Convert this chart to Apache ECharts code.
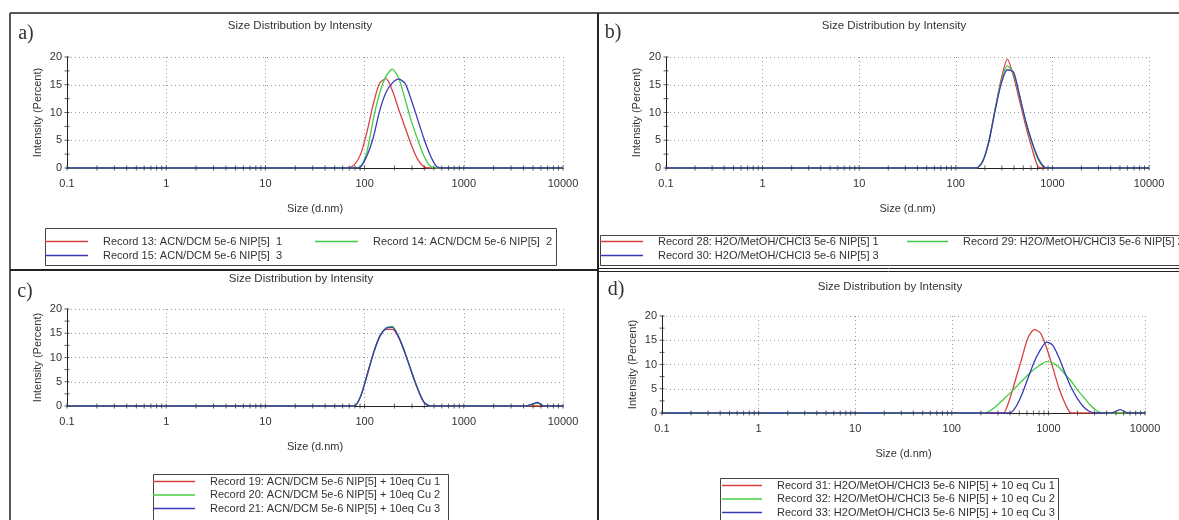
<!DOCTYPE html>
<html><head><meta charset="utf-8">
<script src="https://cdn.jsdelivr.net/npm/echarts@6/dist/echarts.min.js"></script>
<style>html,body{margin:0;padding:0;background:#fff}#c{width:1179px;height:520px}</style>
</head><body><div id="c"></div>
<script>
// Size bins (d.nm)
const sizes = [0.1, 58.77, 68.06, 78.82, 91.28, 105.7, 122.4, 141.8, 164.2, 190.1, 220.2, 255.0, 295.3, 342.0, 396.1, 458.7, 531.2, 615.1, 712.4, 825.0, 955.4, 1106, 1281, 1484, 1718, 1990, 2305, 2669, 3091, 3580, 4145, 4801, 5560, 6439, 7456, 8635, 10000];

// Panel a
const aNames = ['Record 13: ACN/DCM 5e-6 NIP[5]  1', 'Record 14: ACN/DCM 5e-6 NIP[5]  2', 'Record 15: ACN/DCM 5e-6 NIP[5]  3'];
const aRed   = [0,0,0,0.6,2.5,6.5,11.5,15.3,16.1,14.0,10.6,7.4,4.2,1.6,0.2,0,0,0,0,0,0,0,0,0,0,0,0,0,0,0,0,0,0,0,0,0,0];
const aGreen = [0,0,0,0,0.3,3.0,8.8,13.5,16.5,17.8,16.2,12.5,8.5,5.2,2.2,0.3,0,0,0,0,0,0,0,0,0,0,0,0,0,0,0,0,0,0,0,0,0];
const aBlue  = [0,0,0,0,0.2,2.2,5.5,10.3,13.6,15.3,16.0,15.3,12.3,8.8,5.3,2.3,0.3,0,0,0,0,0,0,0,0,0,0,0,0,0,0,0,0,0,0,0,0];

// Panel b
const bNames = ['Record 28: H2O/MetOH/CHCl3 5e-6 NIP[5] 1', 'Record 29: H2O/MetOH/CHCl3 5e-6 NIP[5] 2', 'Record 30: H2O/MetOH/CHCl3 5e-6 NIP[5] 3'];
const bRed   = [0,0,0,0,0,0,0,0,0,1.2,4.8,10.5,16.0,19.6,16.5,12.0,7.5,3.5,0.2,0,0,0,0,0,0,0,0,0,0,0,0,0,0,0,0,0,0];
const bGreen = [0,0,0,0,0,0,0,0,0,1.2,4.8,10.5,15.6,18.4,17.0,12.8,8.2,4.5,1.5,0.1,0,0,0,0,0,0,0,0,0,0,0,0,0,0,0,0,0];
const bBlue  = [0,0,0,0,0,0,0,0,0,1.2,4.8,10.3,15.2,17.7,17.3,13.0,8.4,4.7,1.8,0.2,0,0,0,0,0,0,0,0,0,0,0,0,0,0,0,0,0];

// Panel c
const cNames = ['Record 19: ACN/DCM 5e-6 NIP[5] + 10eq Cu 1', 'Record 20: ACN/DCM 5e-6 NIP[5] + 10eq Cu 2', 'Record 21: ACN/DCM 5e-6 NIP[5] + 10eq Cu 3'];
const cRed   = [0,0,0,0,2.0,6.3,10.8,14.3,15.8,15.8,14.2,11.0,7.2,3.6,0.8,0,0,0,0,0,0,0,0,0,0,0,0,0,0,0,0,0,0,0,0,0,0];
const cGreen = [0,0,0,0,2.0,6.3,10.8,14.4,16.1,16.4,14.3,11.0,7.2,3.6,0.8,0,0,0,0,0,0,0,0,0,0,0,0,0,0,0,0,0.3,0.55,0,0,0,0];
const cBlue  = [0,0,0,0,2.0,6.3,10.8,14.3,16.0,16.2,14.2,11.0,7.2,3.6,0.8,0,0,0,0,0,0,0,0,0,0,0,0,0,0,0,0,0.35,0.75,0,0,0,0];

// Panel d
const dNames = ['Record 31: H2O/MetOH/CHCl3 5e-6 NIP[5] + 10 eq Cu 1', 'Record 32: H2O/MetOH/CHCl3 5e-6 NIP[5] + 10 eq Cu 2', 'Record 33: H2O/MetOH/CHCl3 5e-6 NIP[5] + 10 eq Cu 3'];
const dRed   = [0,0,0,0,0,0,0,0,0,0,0,0,0,0,2.8,7.0,11.3,15.5,17.2,16.5,13.5,9.5,5.2,2.0,0,0,0,0,0,0,0,0,0,0,0,0,0];
const dGreen = [0,0,0,0,0,0,0,0,0,0,0,0.6,1.6,2.8,4.0,5.3,6.6,7.9,9.0,9.9,10.6,10.3,9.5,8.0,6.6,4.8,3.3,1.8,0.6,0,0,0,0,0,0,0,0];
const dBlue  = [0,0,0,0,0,0,0,0,0,0,0,0,0,0,0,1.2,3.8,7.2,10.5,13.0,14.6,14.0,11.5,8.3,5.3,3.0,1.3,0.3,0,0,0,0.2,0.7,0.1,0,0,0];

// Axis ticks
const xTickVals = [];
for (let k = -1; k <= 3; k++) for (let m = 1; m <= 9; m++) xTickVals.push(+(m * Math.pow(10, k)).toPrecision(6));
xTickVals.push(10000);
const yTickVals = [0, 2.5, 5, 7.5, 10, 12.5, 15, 17.5, 20];

const colors = ['#d94040', '#44cc44', '#3a3ab8'];
const FONT = 'Liberation Sans, Arial, sans-serif';

const grids = [
  {left: 67, top: 57, width: 496, height: 111},
  {left: 666, top: 57, width: 483, height: 111},
  {left: 67, top: 309, width: 496, height: 97},
  {left: 662, top: 316, width: 483, height: 97}
];
const panels = [
  {names: aNames, vals: [aRed, aGreen, aBlue]},
  {names: bNames, vals: [bRed, bGreen, bBlue]},
  {names: cNames, vals: [cRed, cGreen, cBlue]},
  {names: dNames, vals: [dRed, dGreen, dBlue]}
];
const dotted = {show: true, lineStyle: {type: [1, 3], color: '#999', width: 1}};

const xAxes = grids.map((g, i) => ({
  type: 'log', gridIndex: i, min: 0.1, max: 10000, logBase: 10,
  name: 'Size (d.nm)', nameLocation: 'middle', nameGap: 35,
  nameTextStyle: {fontSize: 11, color: '#333', fontFamily: FONT},
  axisLine: {lineStyle: {color: '#222', width: 1}},
  axisTick: {show: false}, minorTick: {show: false},
  axisLabel: {fontSize: 11, color: '#333', fontFamily: FONT, margin: 10,
    formatter: v => String(+(+v).toPrecision(6))},
  splitLine: dotted
}));
const yAxes = grids.map((g, i) => ({
  type: 'value', gridIndex: i, min: 0, max: 20, interval: 5,
  name: 'Intensity (Percent)', nameLocation: 'middle', nameGap: 24,
  nameTextStyle: {fontSize: 11, color: '#333', fontFamily: FONT},
  axisLine: {show: true, lineStyle: {color: '#222', width: 1}},
  axisTick: {show: false},
  axisLabel: {fontSize: 11, color: '#333', fontFamily: FONT, margin: 5},
  splitLine: dotted
}));

const series = [];
panels.forEach((p, i) => {
  p.names.forEach((n, j) => {
    series.push({
      name: n, type: 'line', xAxisIndex: i, yAxisIndex: i,
      data: sizes.map((s, k) => [s, p.vals[j][k]]),
      showSymbol: false, smooth: 0.25, color: colors[j],
      lineStyle: {width: 1.3, color: colors[j]}, z: 2 + j * 0.1
    });
  });
  series.push({
    type: 'scatter', xAxisIndex: i, yAxisIndex: i, silent: true, z: 5,
    symbol: 'rect', symbolSize: [1, 5], itemStyle: {color: '#333'},
    data: xTickVals.map(v => [v, 0])
  });
  series.push({
    type: 'scatter', xAxisIndex: i, yAxisIndex: i, silent: true, z: 5,
    symbol: 'rect', symbolSize: [5, 1], itemStyle: {color: '#333'},
    data: yTickVals.map(v => [0.1, v])
  });
});

function leg(name, left, rowY, w) {
  return {
    data: [name], left: left, top: rowY - 7, orient: 'horizontal', icon: 'rect',
    itemWidth: w, itemHeight: 1.5, padding: 0, selectedMode: false,
    textStyle: {fontSize: 11, color: '#333', fontFamily: FONT, padding: [0, 0, 0, 10]}
  };
}
const legends = [
  leg(aNames[0], 45, 243, 43), leg(aNames[1], 315, 243, 43), leg(aNames[2], 45, 257, 43),
  leg(bNames[0], 600, 243, 43), leg(bNames[1], 907, 243, 41), leg(bNames[2], 600, 257, 43),
  leg(cNames[0], 153, 483, 42), leg(cNames[1], 153, 496.5, 42), leg(cNames[2], 153, 510, 42),
  leg(dNames[0], 722, 487, 40), leg(dNames[1], 722, 500.5, 40), leg(dNames[2], 722, 514, 40)
];

function txt(s, x, y, font) {
  return {type: 'text', x: x, y: y, silent: true,
    style: {text: s, font: font, fill: '#333', align: 'center', verticalAlign: 'middle', textAlign: 'center', textVerticalAlign: 'middle'}};
}
function ln(x1, y1, x2, y2, w) {
  return {type: 'line', silent: true, shape: {x1: x1, y1: y1, x2: x2, y2: y2}, style: {stroke: '#222', lineWidth: w}};
}
function box(x, y, w, h) {
  return {type: 'rect', silent: true, shape: {x: x, y: y, width: w, height: h}, style: {fill: 'none', stroke: '#444', lineWidth: 1}};
}
const titleFont = '11.5px ' + FONT;
const labelFont = '20px "Liberation Serif", "Times New Roman", serif';
const graphics = [
  ln(10, 13, 1179, 13, 1.5), ln(10, 13, 10, 520, 1.5), ln(598, 13, 598, 520, 2),
  ln(10, 270, 598, 270, 2), ln(598, 268.5, 1179, 268.5, 1), ln(598, 271.5, 1179, 271.5, 1),
  box(45.5, 228.5, 511, 37), box(600.5, 235.5, 600, 30), box(153.5, 474.5, 295, 50), box(720.5, 478.5, 338, 50),
  txt('Size Distribution by Intensity', 300, 26, titleFont),
  txt('Size Distribution by Intensity', 894, 26, titleFont),
  txt('Size Distribution by Intensity', 301, 279, titleFont),
  txt('Size Distribution by Intensity', 890, 287, titleFont),
  txt('a)', 26, 34, labelFont), txt('b)', 613, 33, labelFont),
  txt('c)', 25, 292, labelFont), txt('d)', 616, 290, labelFont)
];

const chart = echarts.init(document.getElementById('c'), null, {renderer: 'canvas'});
chart.setOption({
  animation: false,
  backgroundColor: '#fff',
  grid: grids,
  xAxis: xAxes,
  yAxis: yAxes,
  legend: legends,
  series: series,
  graphic: graphics
});
</script>
</body></html>
